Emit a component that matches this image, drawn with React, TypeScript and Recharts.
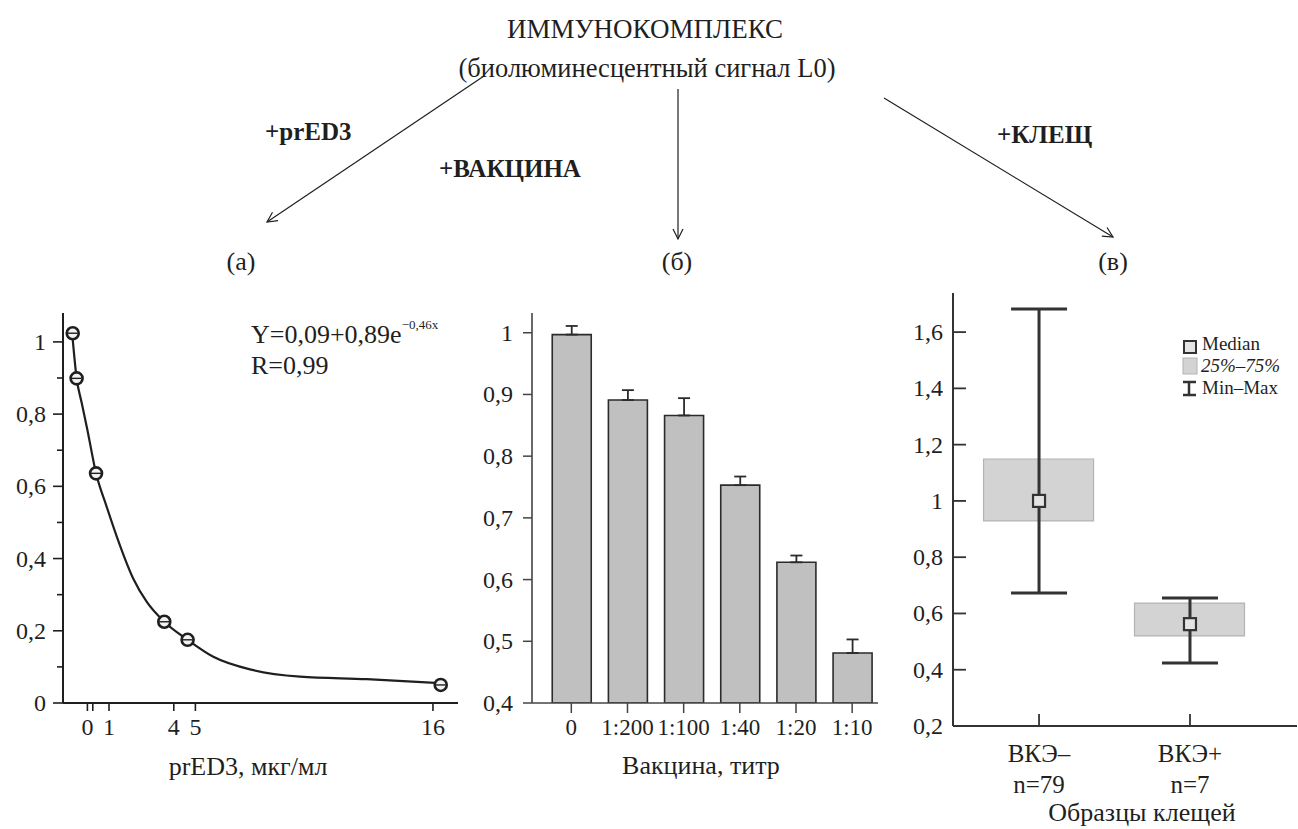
import React from 'react'
import { ComposedChart, Line, Scatter, Bar, XAxis, YAxis, ErrorBar } from 'recharts'

const INK = '#1f1f1f'
const FONT = '"Liberation Serif", "Times New Roman", serif'

// (a) prED3 titration: measured points and the fitted curve as drawn
const doseX = [-0.68, -0.5, 0.4, 3.56, 4.64, 16.36]
const doseY = [1.024, 0.899, 0.636, 0.225, 0.175, 0.05]
const fitX = [-0.7, -0.5, -0.26, 0, 0.4, 0.89, 1.36, 2.12, 2.75, 3.56, 4.64, 5.83, 7.68, 9.84, 12.93, 16.32]
const fitY = [1.02, 0.9, 0.83, 0.756, 0.636, 0.544, 0.461, 0.345, 0.28, 0.225, 0.175, 0.128, 0.091, 0.073, 0.066, 0.055]
const doseTicks = [0, 0.25, 1, 4, 5, 16]
const doseTickLabels = ['0', '', '1', '4', '5', '16']
const signalTicksA = [0, 0.1, 0.2, 0.3, 0.4, 0.5, 0.6, 0.7, 0.8, 0.9, 1]

// (б) vaccine titres
const titres = ['0', '1:200', '1:100', '1:40', '1:20', '1:10']
const vaccineSignal = [0.997, 0.891, 0.866, 0.753, 0.628, 0.481]
const vaccineErr = [0.014, 0.016, 0.028, 0.014, 0.011, 0.022]
const signalTicksB = [0.4, 0.5, 0.6, 0.7, 0.8, 0.9, 1]

// (в) tick samples
const groups = ['ВКЭ–', 'ВКЭ+']
const groupN = ['n=79', 'n=7']
const boxMin = [0.673, 0.424]
const boxQ1 = [0.929, 0.52]
const boxMedian = [1.0, 0.562]
const boxQ3 = [1.149, 0.637]
const boxMax = [1.682, 0.655]
const signalTicksC = [0.2, 0.4, 0.6, 0.8, 1, 1.2, 1.4, 1.6]

const fitData = fitX.map((x, i) => ({ x, y: fitY[i] }))
const pointData = doseX.map((x, i) => ({ x, y: doseY[i] }))
const vaccineData = titres.map((t, i) => ({ x: i, value: vaccineSignal[i], err: [0, vaccineErr[i]] }))
const boxData = groups.map((g, i) => ({
  x: i,
  range: [boxQ1[i], boxQ3[i]],
  median: boxMedian[i],
  err: [boxMedian[i] - boxMin[i], boxMax[i] - boxMedian[i]],
}))

const fmt = (v: number) => String(v).replace('.', ',')

const txt = { fontFamily: FONT, fill: INK }

function DoseYTick({ x, y, payload }: any) {
  const major = Math.round(payload.value * 10) % 2 === 0
  return (
    <g>
      <line x1={x - (major ? 10 : 6)} x2={x} y1={y} y2={y} stroke={INK} strokeWidth={1.6} />
      {major && <text x={x - 17} y={y + 8} textAnchor="end" fontSize={24} {...txt}>{fmt(payload.value)}</text>}
    </g>
  )
}

function DoseXTick({ x, y, payload }: any) {
  const label = doseTickLabels[doseTicks.indexOf(payload.value)]
  return (
    <g>
      <line x1={x} x2={x} y1={y} y2={y + 8} stroke={INK} strokeWidth={1.6} />
      {label && <text x={x} y={y + 32} textAnchor="middle" fontSize={24} {...txt}>{label}</text>}
    </g>
  )
}

function VacYTick({ x, y, payload }: any) {
  return (
    <g>
      <line x1={x - 9} x2={x} y1={y} y2={y} stroke="#444" strokeWidth={1.5} />
      <text x={x - 19} y={y + 8} textAnchor="end" fontSize={24} {...txt}>{fmt(payload.value)}</text>
    </g>
  )
}

function VacXTick({ x, y, payload }: any) {
  return (
    <g>
      <line x1={x} x2={x} y1={y} y2={y + 10} stroke="#444" strokeWidth={1.5} />
      <text x={x} y={y + 32} textAnchor="middle" fontSize={23} {...txt}>{titres[payload.value]}</text>
    </g>
  )
}

function BoxYTick({ x, y, payload }: any) {
  return (
    <g>
      <line x1={x} x2={x + 13} y1={y} y2={y} stroke="#333" strokeWidth={1.8} />
      <text x={x - 10} y={y + 8} textAnchor="end" fontSize={24} {...txt}>{fmt(payload.value)}</text>
    </g>
  )
}

function BoxXTick({ x, y, payload }: any) {
  const i = payload.value
  return (
    <g>
      <line x1={x} x2={x} y1={y - 12} y2={y} stroke="#333" strokeWidth={1.8} />
      <text x={x} y={y + 36} textAnchor="middle" fontSize={25} {...txt}>{groups[i]}</text>
      <text x={x} y={y + 67} textAnchor="middle" fontSize={25} {...txt}>{groupN[i]}</text>
    </g>
  )
}

const Ring = ({ cx, cy }: any) => (
  <g>
    <circle cx={cx} cy={cy} r={6} fill="#f2f2f2" stroke={INK} strokeWidth={2.6} />
    <line x1={cx - 5} x2={cx + 5} y1={cy} y2={cy} stroke={INK} strokeWidth={1.4} />
  </g>
)

const MedianSquare = ({ cx, cy }: any) => (
  <rect x={cx - 6} y={cy - 6} width={12} height={12} fill="#e4e4e4" stroke="#333" strokeWidth={2.2} />
)

export default function App() {
  return (
    <div style={{ position: 'absolute', left: 0, top: 0, width: 1298, height: 829, background: '#fff' }}>
      <div style={{ position: 'absolute', left: 0, top: 300 }}>
        <ComposedChart width={470} height={440} margin={{ top: 13, right: 12, bottom: 0, left: 0 }}>
          <XAxis type="number" dataKey="x" domain={[-1.13, 17.16]} allowDataOverflow ticks={doseTicks} interval={0}
            tickSize={0} tickMargin={0} tickLine={false} tick={<DoseXTick />} height={37}
            axisLine={{ stroke: INK, strokeWidth: 2 }} />
          <YAxis type="number" domain={[0, 1.08]} allowDataOverflow ticks={signalTicksA} interval={0}
            tickSize={0} tickMargin={0} tickLine={false} tick={<DoseYTick />} width={63}
            axisLine={{ stroke: INK, strokeWidth: 2 }} />
          <Line data={fitData} dataKey="y" type="monotone" stroke={INK} strokeWidth={2.2} dot={false} isAnimationActive={false} />
          <Scatter data={pointData} dataKey="y" shape={<Ring />} isAnimationActive={false} />
        </ComposedChart>
      </div>

      <div style={{ position: 'absolute', left: 460, top: 300 }}>
        <ComposedChart width={430} height={440} data={vaccineData} margin={{ top: 13, right: 12, bottom: 0, left: 0 }}>
          <XAxis type="number" dataKey="x" domain={[-0.7, 5.46]} allowDataOverflow ticks={[0, 1, 2, 3, 4, 5]} interval={0}
            tickSize={0} tickMargin={0} tickLine={false} tick={<VacXTick />} height={37}
            axisLine={{ stroke: '#444', strokeWidth: 1.6 }} />
          <YAxis type="number" domain={[0.4, 1.032]} allowDataOverflow ticks={signalTicksB} interval={0}
            tickSize={0} tickMargin={0} tickLine={false} tick={<VacYTick />} width={72}
            axisLine={{ stroke: '#444', strokeWidth: 1.6 }} />
          <Bar dataKey="value" fill="#c0c0c0" stroke="#2b2b2b" strokeWidth={1.6} barSize={39} isAnimationActive={false}>
            <ErrorBar dataKey="err" width={6} stroke="#2b2b2b" strokeWidth={1.8} direction="y" />
          </Bar>
        </ComposedChart>
      </div>

      <div style={{ position: 'absolute', left: 880, top: 280 }}>
        <ComposedChart width={418} height={520} data={boxData} margin={{ top: 13, right: 1, bottom: 0, left: 0 }}>
          <XAxis type="number" dataKey="x" domain={[-0.57, 1.709]} allowDataOverflow ticks={[0, 1]} interval={0}
            tickSize={0} tickMargin={0} tickLine={false} tick={<BoxXTick />} height={74}
            axisLine={{ stroke: '#333', strokeWidth: 2 }} />
          <YAxis type="number" domain={[0.2, 1.739]} allowDataOverflow ticks={signalTicksC} interval={0}
            tickSize={0} tickMargin={0} tickLine={false} tick={<BoxYTick />} width={73}
            axisLine={{ stroke: '#333', strokeWidth: 2 }} />
          <Bar dataKey="range" fill="#d3d3d3" stroke="#b3b3b3" strokeWidth={1.2} barSize={110} isAnimationActive={false} />
          <Scatter dataKey="median" shape={<MedianSquare />} isAnimationActive={false}>
            <ErrorBar dataKey="err" width={28} stroke="#333" strokeWidth={3} direction="y" />
          </Scatter>
        </ComposedChart>
      </div>

      <svg width={1298} height={829} style={{ position: 'absolute', left: 0, top: 0, pointerEvents: 'none' }}>
        <defs>
          <marker id="arr" markerUnits="userSpaceOnUse" markerWidth={14} markerHeight={14} refX={11} refY={6} orient="auto">
            <path d="M1,1 L11,6 L1,11" fill="none" stroke={INK} strokeWidth={1.2} />
          </marker>
        </defs>
        <text x={645} y={38} textAnchor="middle" fontSize={27} {...txt}>ИММУНОКОМПЛЕКС</text>
        <text x={647} y={77} textAnchor="middle" fontSize={26.5} {...txt}>(биолюминесцентный сигнал L0)</text>

        <line x1={484} y1={76} x2={267} y2={222} stroke={INK} strokeWidth={1.2} markerEnd="url(#arr)" />
        <line x1={678} y1={89} x2={678} y2={239} stroke={INK} strokeWidth={1.2} markerEnd="url(#arr)" />
        <line x1={884} y1={98} x2={1113} y2={237} stroke={INK} strokeWidth={1.2} markerEnd="url(#arr)" />

        <text x={265} y={140} fontSize={25} fontWeight="bold" {...txt}>+prED3</text>
        <text x={439} y={177} fontSize={25} fontWeight="bold" {...txt}>+ВАКЦИНА</text>
        <text x={997} y={143} fontSize={25} fontWeight="bold" {...txt}>+КЛЕЩ</text>

        <text x={241} y={270} textAnchor="middle" fontSize={26} {...txt}>(а)</text>
        <text x={677} y={270} textAnchor="middle" fontSize={26} {...txt}>(б)</text>
        <text x={1113} y={270} textAnchor="middle" fontSize={26} {...txt}>(в)</text>

        <text x={251} y={343} fontSize={26} {...txt}>
          Y=0,09+0,89e<tspan fontSize={13} dy={-14}>−0,46x</tspan>
        </text>
        <text x={251} y={374} fontSize={26} {...txt}>R=0,99</text>

        <text x={248} y={775} textAnchor="middle" fontSize={26} {...txt}>prED3, мкг/мл</text>
        <text x={701} y={774} textAnchor="middle" fontSize={26} {...txt}>Вакцина, титр</text>
        <text x={1142} y={821} textAnchor="middle" fontSize={26} {...txt}>Образцы клещей</text>

        <rect x={1184} y={341} width={12} height={12} fill="#e4e4e4" stroke="#333" strokeWidth={2} />
        <text x={1202} y={350} fontSize={19} {...txt}>Median</text>
        <rect x={1183} y={358} width={14} height={16} fill="#d3d3d3" stroke="#b3b3b3" strokeWidth={1} />
        <text x={1201} y={372} fontSize={19} fontStyle="italic" {...txt}>25%–75%</text>
        <line x1={1189} x2={1189} y1={382} y2={395} stroke="#333" strokeWidth={2.5} />
        <line x1={1183} x2={1196} y1={382} y2={382} stroke="#333" strokeWidth={2.5} />
        <line x1={1183} x2={1196} y1={395} y2={395} stroke="#333" strokeWidth={2.5} />
        <text x={1202} y={394} fontSize={19} {...txt}>Min–Max</text>
      </svg>
    </div>
  )
}
